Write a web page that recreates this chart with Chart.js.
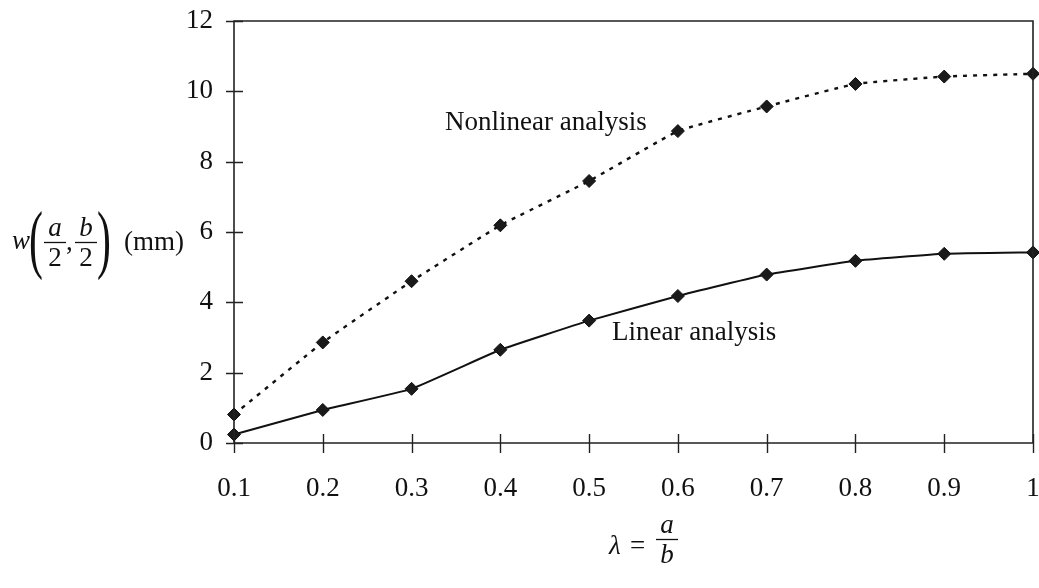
<!DOCTYPE html>
<html lang="en">
<head>
  <meta charset="UTF-8">
  <title>Plate deflection vs aspect ratio</title>
  <script src="https://cdn.jsdelivr.net/npm/chart.js"></script>
  <style>
    body {
      margin: 0;
      background: #fff;
    }

    /* Fixed-size box for the plot */
    .chart-box {
      width: 1039px;
      height: 588px;
      position: relative;
    }
  </style>
</head>
<body>
  <div class="chart-box">
    <canvas id="deflectionChart"></canvas>
  </div>

  <script>
    // Aspect ratio lambda = a/b
    const lambdaLabels = ['0.1', '0.2', '0.3', '0.4', '0.5', '0.6', '0.7', '0.8', '0.9', '1'];
    // Centre deflection w(a/2, b/2) in mm
    const nonlinearDefl = [0.81, 2.86, 4.60, 6.19, 7.45, 8.87, 9.57, 10.21, 10.42, 10.50];
    const linearDefl = [0.24, 0.94, 1.54, 2.65, 3.48, 4.18, 4.79, 5.18, 5.38, 5.42];
    const yTicks = [0, 2, 4, 6, 8, 10, 12];

    const SERIF = '"Liberation Serif", "Times New Roman", serif';
    const INK = '#111';

    // Frame, crossing tick marks and the math-style labels
    const annotate = {
      id: 'annotate',
      afterDraw(chart) {
        const { ctx, chartArea: a, scales: { x, y } } = chart;
        ctx.save();

        // axes and box
        ctx.strokeStyle = '#222';
        ctx.lineWidth = 1.6;
        ctx.beginPath();
        ctx.moveTo(a.left, a.top);
        ctx.lineTo(a.right, a.top);
        ctx.lineTo(a.right, a.bottom);
        ctx.lineTo(a.left, a.bottom);
        ctx.closePath();
        ctx.stroke();

        // tick marks crossing the axes
        ctx.lineWidth = 1.4;
        ctx.beginPath();
        y.ticks.forEach(t => {
          const py = Math.round(y.getPixelForValue(t.value)) + 0.5;
          ctx.moveTo(a.left - 8, py);
          ctx.lineTo(a.left + 9, py);
        });
        x.ticks.forEach((t, i) => {
          const px = Math.round(x.getPixelForTick(i)) + 0.5;
          ctx.moveTo(px, a.bottom - 9);
          ctx.lineTo(px, a.bottom + 10);
        });
        ctx.stroke();

        ctx.fillStyle = INK;
        ctx.textBaseline = 'alphabetic';

        // series labels
        ctx.font = '27px ' + SERIF;
        ctx.textAlign = 'left';
        ctx.fillText('Nonlinear analysis', 445, 130);
        ctx.fillText('Linear analysis', 612, 340);

        // y title: w(a/2, b/2) (mm)
        const italic = 'italic 27px ' + SERIF;
        const upright = '27px ' + SERIF;
        ctx.font = italic;
        ctx.fillText('w', 12, 249);
        drawParen(ctx, '(', 36, 245);
        fraction(ctx, 'a', '2', 55, 242, 22);
        ctx.font = upright;
        ctx.textAlign = 'left';
        ctx.fillText(',', 66, 250);
        fraction(ctx, 'b', '2', 86, 242, 22);
        drawParen(ctx, ')', 104, 245);
        ctx.font = upright;
        ctx.textAlign = 'left';
        ctx.fillText('(mm)', 124, 250);

        // x title: lambda = a/b
        ctx.font = italic;
        ctx.fillText('\u03bb', 609, 554);
        ctx.font = upright;
        ctx.fillText('=', 630, 554);
        fraction(ctx, 'a', 'b', 667, 539, 22);

        ctx.restore();
      }
    };

    // stacked fraction centred on cx with the bar at barY
    function fraction(ctx, num, den, cx, barY, barW) {
      ctx.textAlign = 'center';
      const numFont = /[0-9]/.test(num) ? '27px ' : 'italic 27px ';
      const denFont = /[0-9]/.test(den) ? '27px ' : 'italic 27px ';
      ctx.font = numFont + SERIF;
      ctx.fillText(num, cx, barY - 6);
      ctx.font = denFont + SERIF;
      ctx.fillText(den, cx, barY + 24);
      ctx.lineWidth = 1.3;
      ctx.strokeStyle = INK;
      ctx.beginPath();
      ctx.moveTo(cx - barW / 2, barY + 0.5);
      ctx.lineTo(cx + barW / 2, barY + 0.5);
      ctx.stroke();
    }

    // tall, narrow bracket around the fractions
    function drawParen(ctx, ch, cx, cy) {
      ctx.save();
      ctx.translate(cx, cy + 19);
      ctx.scale(0.55, 1);
      ctx.font = '76px ' + SERIF;
      ctx.textAlign = 'center';
      ctx.fillText(ch, 0, 0);
      ctx.restore();
    }

    const ctx = document.getElementById('deflectionChart').getContext('2d');
    new Chart(ctx, {
      type: 'line',
      data: {
        labels: lambdaLabels,
        datasets: [
          {
            label: 'Nonlinear analysis',
            data: nonlinearDefl,
            borderColor: INK,
            borderWidth: 2.4,
            borderDash: [4, 6],
            pointStyle: 'rectRot',
            pointRadius: 6.5,
            pointBackgroundColor: '#1a1a1a',
            pointBorderColor: INK,
            pointBorderWidth: 1,
            tension: 0.1,
            clip: false
          },
          {
            label: 'Linear analysis',
            data: linearDefl,
            borderColor: INK,
            borderWidth: 2,
            pointStyle: 'rectRot',
            pointRadius: 6.5,
            pointBackgroundColor: '#1a1a1a',
            pointBorderColor: INK,
            pointBorderWidth: 1,
            tension: 0.1,
            clip: false
          }
        ]
      },
      options: {
        responsive: true,
        maintainAspectRatio: false,
        animation: false,
        events: [],
        layout: {
          autoPadding: false,
          padding: { left: 0, top: 21, right: 6, bottom: 0 }
        },
        plugins: {
          legend: { display: false },
          tooltip: { enabled: false }
        },
        scales: {
          x: {
            type: 'category',
            offset: false,
            grid: { display: false, drawTicks: false },
            border: { display: false },
            ticks: {
              color: INK,
              font: { family: SERIF, size: 27 },
              padding: 30,
              maxRotation: 0,
              autoSkip: false
            },
            afterFit(scale) {
              scale.height = 145;
              scale.paddingLeft = 0;
              scale.paddingRight = 0;
            }
          },
          y: {
            min: 0,
            max: 12,
            grid: { display: false, drawTicks: false },
            border: { display: false },
            ticks: {
              color: INK,
              font: { family: SERIF, size: 27 },
              padding: 21
            },
            afterBuildTicks(scale) {
              scale.ticks = yTicks.map(v => ({ value: v }));
            },
            afterFit(scale) {
              scale.width = 234;
              scale.paddingTop = 0;
              scale.paddingBottom = 0;
            }
          }
        }
      },
      plugins: [annotate]
    });
  </script>
</body>
</html>
